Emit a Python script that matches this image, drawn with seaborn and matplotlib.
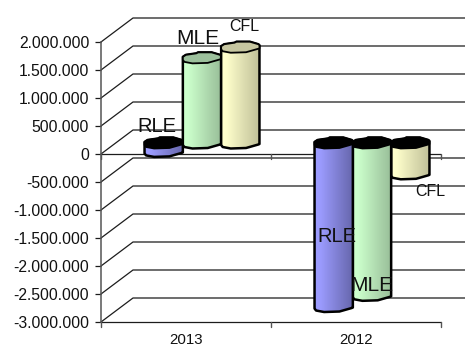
import matplotlib
matplotlib.use("Agg")
import matplotlib.pyplot as plt
import numpy as np
import pandas as pd
import seaborn as sns
from matplotlib.patches import Polygon
from matplotlib.transforms import IdentityTransform

years = ["2013", "2012"]
series = ["RLE", "MLE", "CFL"]
rle_values = [-150000, -2920000]
mle_values = [1520000, -2720000]
cfl_values = [1710000, -550000]
y_ticks = [2000000, 1500000, 1000000, 500000, 0, -500000, -1000000,
           -1500000, -2000000, -2500000, -3000000]
y_labels = ["2.000.000", "1.500.000", "1.000.000", "500.000", "0", "-500.000",
            "-1.000.000", "-1.500.000", "-2.000.000", "-2.500.000", "-3.000.000"]

W, H = 465, 347
sns.set_theme(style="white")
plt.rcParams["font.family"] = ["Liberation Sans", "DejaVu Sans"]

fig = plt.figure(figsize=(W / 100, H / 100), dpi=100, facecolor="white")
ax = fig.add_axes([101 / W, 1 - 322 / H, 340 / W, 280 / H], facecolor="none")

df = pd.DataFrame({
    "year": np.repeat(years, 3),
    "series": series * 2,
    "value": [v for pair in zip(rle_values, mle_values, cfl_values) for v in pair],
})
sns.barplot(data=df, x="year", y="value", hue="series", order=years, hue_order=series,
            width=0.676, legend=False, ax=ax)
ax.set_autoscale_on(False)
ax.set_xlim(-0.5, 1.5)
ax.set_ylim(-3000000, 2000000)

LINE = "#1c1c1c"
DEPTH_X, DEPTH_Y = 32, 24       # oblique offset of the back wall
BAR_DX, BAR_DY = 16, 11         # bars stand halfway into the depth


def to_px(x, y):
    return ax.transData.transform((x, y))


# back wall and side wall grid
for v in y_ticks:
    x0, y0 = to_px(-0.5, v)
    ax.plot([x0, x0 + DEPTH_X, W], [y0, y0 + DEPTH_Y, y0 + DEPTH_Y],
            transform=IdentityTransform(), color=LINE, lw=0.9, clip_on=False, zorder=1,
            solid_joinstyle="miter")

# axis frame
for side in ["top", "right", "bottom"]:
    ax.spines[side].set_visible(False)
ax.spines["left"].set_color("#555555")
ax.spines["left"].set_linewidth(1.1)
ax.set_yticks(y_ticks, y_labels)
ax.tick_params(axis="y", length=4.5, width=0.9, color=LINE, pad=4, labelsize=11.3,
               labelcolor="#111111", left=True)
ax.set_xticks([0, 1], years)
ax.tick_params(axis="x", length=0, pad=8, labelsize=10.8, labelcolor="#111111")
ax.set_xlabel("")
ax.set_ylabel("")
ax.axhline(0, color=LINE, lw=0.9, zorder=2)
ax.axhline(-3000000, color=LINE, lw=0.9, zorder=2, clip_on=False)
for xt in [-0.5, 0.5, 1.5]:
    for base in [0, -3000000]:
        x0, y0 = to_px(xt, base)
        ax.plot([x0, x0], [y0, y0 - 5], transform=IdentityTransform(),
                color="#555555", lw=1.0, clip_on=False, zorder=2)

# faceted column cross-section: (fraction of width, pixel rise)
back_edge = [(0, 1), (.08, 3), (.35, 4.5), (.4, 5.5), (.75, 5.5), (.97, 3), (1, 2)]
front_edge = [(1, -1), (.97, -1.5), (.65, -5), (.25, -5.5), (.04, -4), (0, -2)]

shade = {"RLE": ("#9c9cff", "#6565aa", "#5c5c9e"),
         "MLE": ("#ccffcc", "#98bd98", "#9cc09c"),
         "CFL": ("#ffffcc", "#bfbf98", "#c6c6a0")}

bars = list(ax.patches)
records = []
for bar in bars:
    bar.set_visible(False)
for j, name in enumerate(series):
    for k, year in enumerate(years):
        bar = bars[j * 2 + k]
        value = df[(df.year == year) & (df.series == name)]["value"].iloc[0]
        records.append((k, j, name, bar.get_x(), bar.get_width(), value))

# the nearer column overlaps its neighbour differently in each group
draw_order = sorted(records, key=lambda r: (r[0], r[1] if r[0] == 0 else -r[1]))
z = 3.0
geometry = {}
for k, j, name, x_left, width, value in draw_order:
    x0 = to_px(x_left, 0)[0] + BAR_DX
    x1 = to_px(x_left + width, 0)[0] + BAR_DX
    y_zero = to_px(0, 0)[1] + BAR_DY
    y_end = to_px(0, value)[1] + BAR_DY
    y_top, y_bot = max(y_zero, y_end), min(y_zero, y_end)
    w = x1 - x0
    geometry[(k, name)] = (x0, x1, y_top, y_bot)

    back = [(x0 + f * w, y_top + d) for f, d in back_edge]
    front_top = [(x0 + f * w, y_top + d) for f, d in front_edge]
    front_bot = [(x0 + f * w, y_bot + d) for f, d in front_edge]

    light, dark, cap = shade[name]
    cap_colour = "black" if value < 0 else cap

    body = Polygon(back + front_bot, closed=True, transform=IdentityTransform(),
                   facecolor="none", edgecolor="black", lw=1.8, zorder=z + 0.2,
                   joinstyle="round", clip_on=False)
    ax.add_patch(body)

    c0 = np.array(matplotlib.colors.to_rgb(light))
    c1 = np.array(matplotlib.colors.to_rgb(dark))
    t = np.clip((np.linspace(0, 1, 64) - 0.12) / 0.88, 0, 1)[None, :, None]
    strip = c0[None, None, :] * (1 - t) + c1[None, None, :] * t
    img = ax.imshow(strip, extent=(x0, x1, y_bot - 7, y_top + 7), aspect="auto",
                    transform=IdentityTransform(), interpolation="bilinear",
                    zorder=z + 0.1)
    img.set_clip_path(body)

    ax.add_patch(Polygon(back + front_top, closed=True, transform=IdentityTransform(),
                         facecolor=cap_colour, edgecolor="black", lw=1.3, zorder=z + 0.3,
                         joinstyle="round", clip_on=False))
    z += 1


def place(text, k, name, dx, dy, size):
    x0, x1, y_top, y_bot = geometry[(k, name)]
    value = df[(df.year == years[k]) & (df.series == name)]["value"].iloc[0]
    anchor = y_top if value >= 0 else y_bot
    ax.text((x0 + x1) / 2 + dx, anchor + dy, text, transform=IdentityTransform(),
            ha="center", va="center", fontsize=size, color="#111111", zorder=30, clip_on=False)


# value-end labels for each column
place("RLE", 0, "RLE", -7, 25, 14.5)
place("MLE", 0, "MLE", -4, 19, 15)
place("CFL", 0, "CFL", 4, 21, 11.5)
place("RLE", 1, "RLE", 3, 70, 14.5)
place("MLE", 1, "MLE", 0, 10, 15)
place("CFL", 1, "CFL", 20, -18, 11.5)

fig.savefig("out.png", dpi=100)
